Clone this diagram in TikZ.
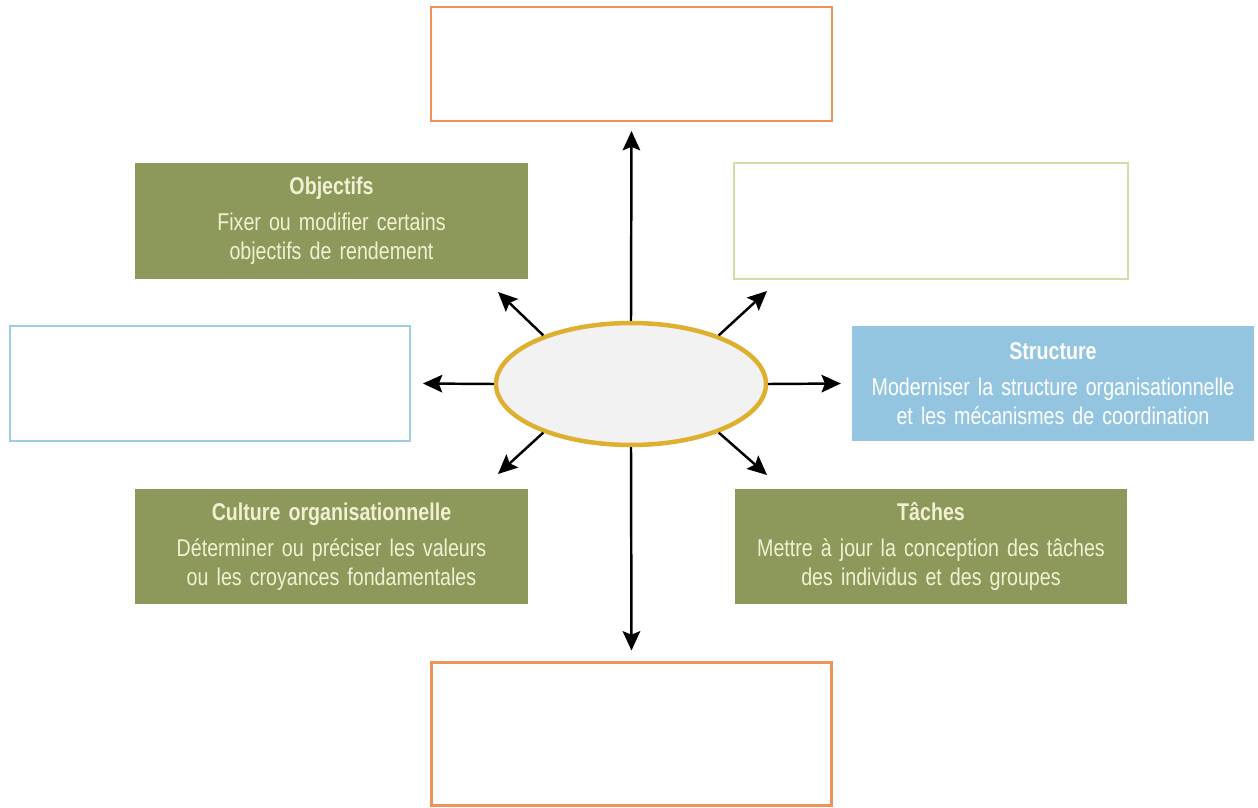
\documentclass[tikz,border=0pt]{standalone}
\usepackage{fontspec}
\setmainfont{Liberation Sans}[FakeStretch=0.81, WordSpace=0.7]
\usetikzlibrary{arrows.meta,shapes.geometric}

\definecolor{leaf}{RGB}{140,153,90}
\definecolor{cream}{RGB}{242,240,212}
\definecolor{skyfill}{RGB}{147,196,224}
\definecolor{skyline}{RGB}{158,204,226}
\definecolor{peach}{RGB}{240,146,90}
\definecolor{paleleaf}{RGB}{214,218,166}
\definecolor{gold}{RGB}{222,176,48}
\definecolor{pearl}{RGB}{242,242,242}

\tikzstyle{leafbox} = [rectangle, minimum width=7.86cm, minimum height=2.32cm, text width=7.6cm, text centered, fill=leaf, text=cream, font=\fontsize{13.8}{16.5}\selectfont]
\tikzstyle{skybox} = [rectangle, minimum width=8cm, minimum height=2.3cm, text width=7.8cm, text centered, fill=skyfill, text=white, font=\fontsize{13.8}{16.5}\selectfont]
\tikzstyle{blank} = [rectangle, fill=white, minimum height=2.3cm]
\tikzstyle{hub} = [ellipse, minimum width=5.4cm, minimum height=2.44cm, fill=pearl, draw=gold, line width=0.09cm]

\begin{document}
\begin{tikzpicture}[x=0.02cm, y=-0.02cm]
    \tikzset{myptr/.style={line width=1.4pt, -{Stealth[length=11pt,width=10pt,inset=2pt]}}}
\useasboundingbox (0,0) rectangle (1258,808);

\node (Center) [hub] at (631,384) {};

% empty frames
\node (Top) [blank, draw=peach, line width=0.04cm, minimum width=8.02cm, minimum height=2.28cm] at (631.5,64) {};
\node (Bottom) [blank, draw=peach, line width=0.06cm, minimum width=8.02cm, minimum height=2.88cm] at (631.5,734) {};
\node (Left) [blank, draw=skyline, line width=0.04cm, minimum width=8cm] at (210,383.5) {};
\node (TopR) [blank, draw=paleleaf, line width=0.03cm, minimum width=7.88cm, minimum height=2.32cm] at (931,221) {};

% filled boxes
\node (Obj) [leafbox] at (331.5,221) {\textbf{Objectifs}\\[4pt]Fixer ou modifier certains\\objectifs de rendement};
\node (Cult) [leafbox] at (331.5,546.5) {\textbf{Culture organisationnelle}\\[4pt]Déterminer ou préciser les valeurs\\ou les croyances fondamentales};
\node (Task) [leafbox] at (931,546.5) {\textbf{Tâches}\\[4pt]Mettre à jour la conception des tâches\\des individus et des groupes};
\node (Struct) [skybox] at (1053,383.5) {\textbf{Structure}\\[4pt]Moderniser la structure organisationnelle\\et les mécanismes de coordination};

% free ends of the diagonal arrows
\coordinate (pObj) at (498,292);
\coordinate (pTopR) at (767,291);
\coordinate (pCult) at (498,474);
\coordinate (pTask) at (767,475);

\draw [myptr] (Center.north) -- ([yshift=-0.18cm]Top.south);
\draw [myptr] (Center.south) -- ([yshift=0.2cm]Bottom.north);
\draw [myptr] (Center.west) -- ([xshift=0.24cm]Left.east);
\draw [myptr] (Center.east) -- ([xshift=-0.22cm]Struct.west);
\draw [myptr] (Center.151) -- (pObj);
\draw [myptr] (Center.29) -- (pTopR);
\draw [myptr] (Center.209) -- (pCult);
\draw [myptr] (Center.331) -- (pTask);
\end{tikzpicture}
\end{document}
